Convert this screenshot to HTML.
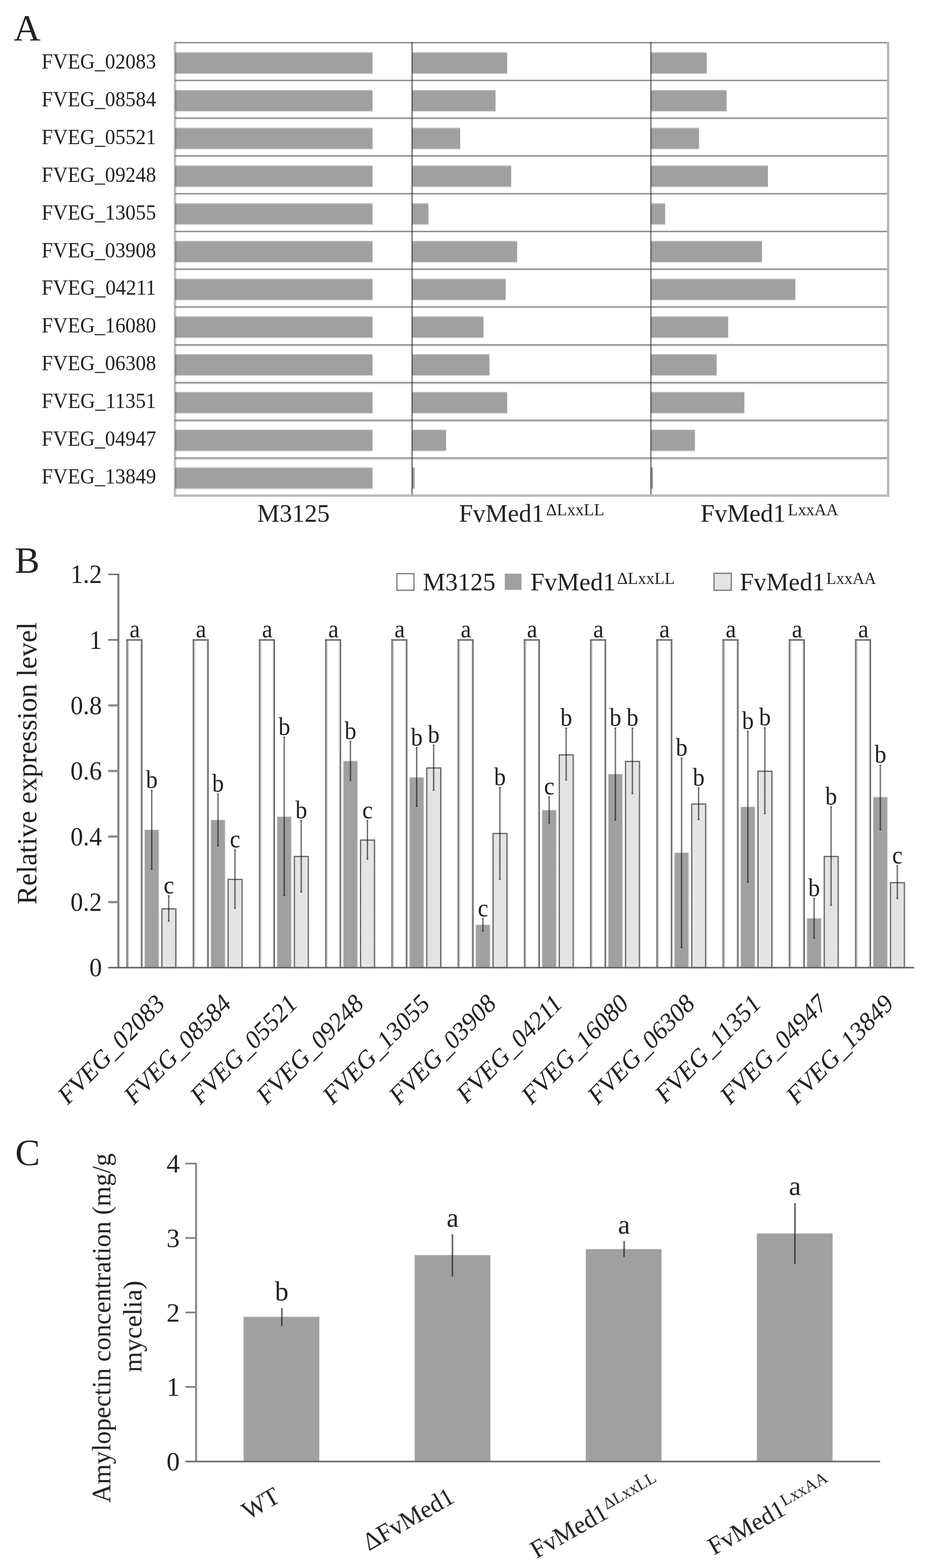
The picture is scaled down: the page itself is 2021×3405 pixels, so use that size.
<!DOCTYPE html>
<html lang="en">
<head>
<meta charset="utf-8">
<title>Figure</title>
<style>
html,body{margin:0;padding:0;background:#fff;}
body{width:2021px;height:3405px;}
svg{display:block;font-family:'Liberation Serif', 'DejaVu Serif', serif;fill:#222222;}
</style>
</head>
<body>
<svg width="2021" height="3405" viewBox="0 0 2021 3405">
<defs>
<pattern id="dots" width="4" height="4" patternUnits="userSpaceOnUse"><rect width="4" height="4" fill="#e9e9e9"/><rect width="2" height="2" fill="#dfdfdf"/><rect x="2" y="2" width="2" height="2" fill="#dfdfdf"/></pattern>
<filter id="soft" x="0" y="0" width="2021" height="3405" filterUnits="userSpaceOnUse"><feGaussianBlur stdDeviation="0.7"/></filter>
</defs>
<rect width="2021" height="3405" fill="#ffffff"/>
<g filter="url(#soft)">
<g id="panelA">
<text x="29.5" y="88" font-size="81">A</text>
<rect x="380.2" y="158.8" width="429.3" height="2.8" fill="#e9e9e9"/>
<rect x="380.2" y="113.5" width="428.5" height="3" fill="#b4b4b4"/>
<rect x="380.2" y="115.9" width="428.5" height="43.4" fill="#a0a0a0"/>
<rect x="894.5" y="158.8" width="207.3" height="2.8" fill="#e9e9e9"/>
<rect x="894.5" y="113.5" width="206.5" height="3" fill="#b4b4b4"/>
<rect x="894.5" y="115.9" width="206.5" height="43.4" fill="#a0a0a0"/>
<rect x="1412.9" y="158.8" width="122.1" height="2.8" fill="#e9e9e9"/>
<rect x="1412.9" y="113.5" width="121.3" height="3" fill="#b4b4b4"/>
<rect x="1412.9" y="115.9" width="121.3" height="43.4" fill="#a0a0a0"/>
<text x="90.3" y="149" font-size="47" textLength="248.5" lengthAdjust="spacingAndGlyphs">FVEG_02083</text>
<rect x="380.2" y="240.8" width="429.3" height="2.8" fill="#e9e9e9"/>
<rect x="380.2" y="195.4" width="428.5" height="3" fill="#b4b4b4"/>
<rect x="380.2" y="197.8" width="428.5" height="43.4" fill="#a0a0a0"/>
<rect x="894.5" y="240.8" width="182" height="2.8" fill="#e9e9e9"/>
<rect x="894.5" y="195.4" width="181.2" height="3" fill="#b4b4b4"/>
<rect x="894.5" y="197.8" width="181.2" height="43.4" fill="#a0a0a0"/>
<rect x="1412.9" y="240.8" width="165.2" height="2.8" fill="#e9e9e9"/>
<rect x="1412.9" y="195.4" width="164.4" height="3" fill="#b4b4b4"/>
<rect x="1412.9" y="197.8" width="164.4" height="43.4" fill="#a0a0a0"/>
<text x="90.3" y="230.9" font-size="47" textLength="248.5" lengthAdjust="spacingAndGlyphs">FVEG_08584</text>
<rect x="380.2" y="322.7" width="429.3" height="2.8" fill="#e9e9e9"/>
<rect x="380.2" y="277.4" width="428.5" height="3" fill="#b4b4b4"/>
<rect x="380.2" y="279.8" width="428.5" height="43.4" fill="#a0a0a0"/>
<rect x="894.5" y="322.7" width="105.2" height="2.8" fill="#e9e9e9"/>
<rect x="894.5" y="277.4" width="104.4" height="3" fill="#b4b4b4"/>
<rect x="894.5" y="279.8" width="104.4" height="43.4" fill="#a0a0a0"/>
<rect x="1412.9" y="322.7" width="105.4" height="2.8" fill="#e9e9e9"/>
<rect x="1412.9" y="277.4" width="104.6" height="3" fill="#b4b4b4"/>
<rect x="1412.9" y="279.8" width="104.6" height="43.4" fill="#a0a0a0"/>
<text x="90.3" y="312.8" font-size="47" textLength="248.5" lengthAdjust="spacingAndGlyphs">FVEG_05521</text>
<rect x="380.2" y="404.7" width="429.3" height="2.8" fill="#e9e9e9"/>
<rect x="380.2" y="359.4" width="428.5" height="3" fill="#b4b4b4"/>
<rect x="380.2" y="361.8" width="428.5" height="43.4" fill="#a0a0a0"/>
<rect x="894.5" y="404.7" width="215.9" height="2.8" fill="#e9e9e9"/>
<rect x="894.5" y="359.4" width="215.1" height="3" fill="#b4b4b4"/>
<rect x="894.5" y="361.8" width="215.1" height="43.4" fill="#a0a0a0"/>
<rect x="1412.9" y="404.7" width="254.9" height="2.8" fill="#e9e9e9"/>
<rect x="1412.9" y="359.4" width="254.1" height="3" fill="#b4b4b4"/>
<rect x="1412.9" y="361.8" width="254.1" height="43.4" fill="#a0a0a0"/>
<text x="90.3" y="394.7" font-size="47" textLength="248.5" lengthAdjust="spacingAndGlyphs">FVEG_09248</text>
<rect x="380.2" y="486.6" width="429.3" height="2.8" fill="#e9e9e9"/>
<rect x="380.2" y="441.3" width="428.5" height="3" fill="#b4b4b4"/>
<rect x="380.2" y="443.7" width="428.5" height="43.4" fill="#a0a0a0"/>
<rect x="894.5" y="486.6" width="36.2" height="2.8" fill="#e9e9e9"/>
<rect x="894.5" y="441.3" width="35.4" height="3" fill="#b4b4b4"/>
<rect x="894.5" y="443.7" width="35.4" height="43.4" fill="#a0a0a0"/>
<rect x="1412.9" y="486.6" width="31.8" height="2.8" fill="#e9e9e9"/>
<rect x="1412.9" y="441.3" width="31" height="3" fill="#b4b4b4"/>
<rect x="1412.9" y="443.7" width="31" height="43.4" fill="#a0a0a0"/>
<text x="90.3" y="476.6" font-size="47" textLength="248.5" lengthAdjust="spacingAndGlyphs">FVEG_13055</text>
<rect x="380.2" y="568.5" width="429.3" height="2.8" fill="#e9e9e9"/>
<rect x="380.2" y="523.2" width="428.5" height="3" fill="#b4b4b4"/>
<rect x="380.2" y="525.6" width="428.5" height="43.4" fill="#a0a0a0"/>
<rect x="894.5" y="568.5" width="228.9" height="2.8" fill="#e9e9e9"/>
<rect x="894.5" y="523.2" width="228.1" height="3" fill="#b4b4b4"/>
<rect x="894.5" y="525.6" width="228.1" height="43.4" fill="#a0a0a0"/>
<rect x="1412.9" y="568.5" width="242" height="2.8" fill="#e9e9e9"/>
<rect x="1412.9" y="523.2" width="241.2" height="3" fill="#b4b4b4"/>
<rect x="1412.9" y="525.6" width="241.2" height="43.4" fill="#a0a0a0"/>
<text x="90.3" y="558.5" font-size="47" textLength="248.5" lengthAdjust="spacingAndGlyphs">FVEG_03908</text>
<rect x="380.2" y="650.5" width="429.3" height="2.8" fill="#e9e9e9"/>
<rect x="380.2" y="605.2" width="428.5" height="3" fill="#b4b4b4"/>
<rect x="380.2" y="607.6" width="428.5" height="43.4" fill="#a0a0a0"/>
<rect x="894.5" y="650.5" width="204.1" height="2.8" fill="#e9e9e9"/>
<rect x="894.5" y="605.2" width="203.3" height="3" fill="#b4b4b4"/>
<rect x="894.5" y="607.6" width="203.3" height="43.4" fill="#a0a0a0"/>
<rect x="1412.9" y="650.5" width="314.5" height="2.8" fill="#e9e9e9"/>
<rect x="1412.9" y="605.2" width="313.7" height="3" fill="#b4b4b4"/>
<rect x="1412.9" y="607.6" width="313.7" height="43.4" fill="#a0a0a0"/>
<text x="90.3" y="640.4" font-size="47" textLength="248.5" lengthAdjust="spacingAndGlyphs">FVEG_04211</text>
<rect x="380.2" y="732.4" width="429.3" height="2.8" fill="#e9e9e9"/>
<rect x="380.2" y="687.1" width="428.5" height="3" fill="#b4b4b4"/>
<rect x="380.2" y="689.5" width="428.5" height="43.4" fill="#a0a0a0"/>
<rect x="894.5" y="732.4" width="155.8" height="2.8" fill="#e9e9e9"/>
<rect x="894.5" y="687.1" width="155" height="3" fill="#b4b4b4"/>
<rect x="894.5" y="689.5" width="155" height="43.4" fill="#a0a0a0"/>
<rect x="1412.9" y="732.4" width="168.7" height="2.8" fill="#e9e9e9"/>
<rect x="1412.9" y="687.1" width="167.9" height="3" fill="#b4b4b4"/>
<rect x="1412.9" y="689.5" width="167.9" height="43.4" fill="#a0a0a0"/>
<text x="90.3" y="722.3" font-size="47" textLength="248.5" lengthAdjust="spacingAndGlyphs">FVEG_16080</text>
<rect x="380.2" y="814.4" width="429.3" height="2.8" fill="#e9e9e9"/>
<rect x="380.2" y="769.1" width="428.5" height="3" fill="#b4b4b4"/>
<rect x="380.2" y="771.5" width="428.5" height="43.4" fill="#a0a0a0"/>
<rect x="894.5" y="814.4" width="168.8" height="2.8" fill="#e9e9e9"/>
<rect x="894.5" y="769.1" width="168" height="3" fill="#b4b4b4"/>
<rect x="894.5" y="771.5" width="168" height="43.4" fill="#a0a0a0"/>
<rect x="1412.9" y="814.4" width="143.6" height="2.8" fill="#e9e9e9"/>
<rect x="1412.9" y="769.1" width="142.8" height="3" fill="#b4b4b4"/>
<rect x="1412.9" y="771.5" width="142.8" height="43.4" fill="#a0a0a0"/>
<text x="90.3" y="804.2" font-size="47" textLength="248.5" lengthAdjust="spacingAndGlyphs">FVEG_06308</text>
<rect x="380.2" y="896.4" width="429.3" height="2.8" fill="#e9e9e9"/>
<rect x="380.2" y="851.1" width="428.5" height="3" fill="#b4b4b4"/>
<rect x="380.2" y="853.5" width="428.5" height="43.4" fill="#a0a0a0"/>
<rect x="894.5" y="896.4" width="207.3" height="2.8" fill="#e9e9e9"/>
<rect x="894.5" y="851.1" width="206.5" height="3" fill="#b4b4b4"/>
<rect x="894.5" y="853.5" width="206.5" height="43.4" fill="#a0a0a0"/>
<rect x="1412.9" y="896.4" width="203.7" height="2.8" fill="#e9e9e9"/>
<rect x="1412.9" y="851.1" width="202.9" height="3" fill="#b4b4b4"/>
<rect x="1412.9" y="853.5" width="202.9" height="43.4" fill="#a0a0a0"/>
<text x="90.3" y="886.1" font-size="47" textLength="248.5" lengthAdjust="spacingAndGlyphs">FVEG_11351</text>
<rect x="380.2" y="978.3" width="429.3" height="2.8" fill="#e9e9e9"/>
<rect x="380.2" y="933" width="428.5" height="3" fill="#b4b4b4"/>
<rect x="380.2" y="935.4" width="428.5" height="43.4" fill="#a0a0a0"/>
<rect x="894.5" y="978.3" width="74.7" height="2.8" fill="#e9e9e9"/>
<rect x="894.5" y="933" width="73.9" height="3" fill="#b4b4b4"/>
<rect x="894.5" y="935.4" width="73.9" height="43.4" fill="#a0a0a0"/>
<rect x="1412.9" y="978.3" width="96.5" height="2.8" fill="#e9e9e9"/>
<rect x="1412.9" y="933" width="95.7" height="3" fill="#b4b4b4"/>
<rect x="1412.9" y="935.4" width="95.7" height="43.4" fill="#a0a0a0"/>
<text x="90.3" y="968" font-size="47" textLength="248.5" lengthAdjust="spacingAndGlyphs">FVEG_04947</text>
<rect x="380.2" y="1060.2" width="429.3" height="2.8" fill="#e9e9e9"/>
<rect x="380.2" y="1015" width="428.5" height="3" fill="#b4b4b4"/>
<rect x="380.2" y="1017.4" width="428.5" height="43.4" fill="#a0a0a0"/>
<rect x="894.5" y="1060.2" width="6.5" height="2.8" fill="#e9e9e9"/>
<rect x="894.5" y="1015" width="5.7" height="3" fill="#b4b4b4"/>
<rect x="894.5" y="1017.4" width="5.7" height="43.4" fill="#a0a0a0"/>
<rect x="1412.9" y="1060.2" width="5.4" height="2.8" fill="#e9e9e9"/>
<rect x="1412.9" y="1015" width="4.6" height="3" fill="#b4b4b4"/>
<rect x="1412.9" y="1017.4" width="4.6" height="43.4" fill="#a0a0a0"/>
<text x="90.3" y="1049.9" font-size="47" textLength="248.5" lengthAdjust="spacingAndGlyphs">FVEG_13849</text>
<line x1="380" y1="94.8" x2="1927.9" y2="94.8" stroke="#e8e8e8" stroke-width="2"/>
<line x1="380" y1="92.5" x2="1927.9" y2="92.5" stroke="#808080" stroke-width="2.7"/>
<line x1="380" y1="176.8" x2="1927.9" y2="176.8" stroke="#e8e8e8" stroke-width="2"/>
<line x1="380" y1="174.5" x2="1927.9" y2="174.5" stroke="#808080" stroke-width="2.7"/>
<line x1="380" y1="258.8" x2="1927.9" y2="258.8" stroke="#e8e8e8" stroke-width="2"/>
<line x1="380" y1="256.5" x2="1927.9" y2="256.5" stroke="#808080" stroke-width="2.7"/>
<line x1="380" y1="340.8" x2="1927.9" y2="340.8" stroke="#e8e8e8" stroke-width="2"/>
<line x1="380" y1="338.5" x2="1927.9" y2="338.5" stroke="#808080" stroke-width="2.7"/>
<line x1="380" y1="422.8" x2="1927.9" y2="422.8" stroke="#e8e8e8" stroke-width="2"/>
<line x1="380" y1="420.5" x2="1927.9" y2="420.5" stroke="#808080" stroke-width="2.7"/>
<line x1="380" y1="504.8" x2="1927.9" y2="504.8" stroke="#e8e8e8" stroke-width="2"/>
<line x1="380" y1="502.5" x2="1927.9" y2="502.5" stroke="#808080" stroke-width="2.7"/>
<line x1="380" y1="586.8" x2="1927.9" y2="586.8" stroke="#e8e8e8" stroke-width="2"/>
<line x1="380" y1="584.5" x2="1927.9" y2="584.5" stroke="#808080" stroke-width="2.7"/>
<line x1="380" y1="668.8" x2="1927.9" y2="668.8" stroke="#e8e8e8" stroke-width="2"/>
<line x1="380" y1="666.5" x2="1927.9" y2="666.5" stroke="#808080" stroke-width="2.7"/>
<line x1="380" y1="750.8" x2="1927.9" y2="750.8" stroke="#c6c6c6" stroke-width="2.4"/>
<line x1="380" y1="748.5" x2="1927.9" y2="748.5" stroke="#8c8c8c" stroke-width="2.7"/>
<line x1="380" y1="832.8" x2="1927.9" y2="832.8" stroke="#c6c6c6" stroke-width="2.4"/>
<line x1="380" y1="830.5" x2="1927.9" y2="830.5" stroke="#8c8c8c" stroke-width="2.7"/>
<line x1="380" y1="914.8" x2="1927.9" y2="914.8" stroke="#c6c6c6" stroke-width="2.4"/>
<line x1="380" y1="912.5" x2="1927.9" y2="912.5" stroke="#8c8c8c" stroke-width="2.7"/>
<line x1="380" y1="996.8" x2="1927.9" y2="996.8" stroke="#c6c6c6" stroke-width="2.4"/>
<line x1="380" y1="994.5" x2="1927.9" y2="994.5" stroke="#8c8c8c" stroke-width="2.7"/>
<line x1="894.5" y1="91.5" x2="894.5" y2="1076.2" stroke="#000" stroke-width="3" stroke-opacity="0.52"/>
<line x1="1412.9" y1="91.5" x2="1412.9" y2="1076.2" stroke="#000" stroke-width="3" stroke-opacity="0.52"/>
<line x1="378.8" y1="91" x2="378.8" y2="1078.7" stroke="#b8b8b8" stroke-width="2.8"/>
<line x1="381.4" y1="91" x2="381.4" y2="1078.7" stroke="#000" stroke-width="2.4" stroke-opacity="0.25"/>
<line x1="1927.9" y1="91" x2="1927.9" y2="1078.7" stroke="#b6b6b6" stroke-width="5"/>
<line x1="377.5" y1="1076.2" x2="1930.4" y2="1076.2" stroke="#b9b9b9" stroke-width="5"/>
<text x="637" y="1133" font-size="54.5" text-anchor="middle">M3125</text>
<text x="1154" y="1132.6" font-size="54.5" text-anchor="middle">FvMed1<tspan font-size="36.3" dy="-13.8" dx="4.5">ΔLxxLL</tspan></text>
<text x="1670.3" y="1132.6" font-size="54.5" text-anchor="middle">FvMed1<tspan font-size="35.8" dy="-13.8" dx="4.8">LxxAA</tspan></text>
</g>
<g id="panelB">
<text x="32" y="1243.6" font-size="81">B</text>
<line x1="277.6" y1="1391.8" x2="306.3" y2="1391.8" stroke="#e6e6e6" stroke-width="1.8"/>
<line x1="278.8" y1="1389.6" x2="278.8" y2="2101.2" stroke="#c4c4c4" stroke-width="2"/>
<line x1="305.2" y1="1389.6" x2="305.2" y2="2101.2" stroke="#d2d2d2" stroke-width="1.6"/>
<line x1="275.9" y1="1388.4" x2="275.9" y2="2101.2" stroke="#7c7c7c" stroke-width="3.3"/>
<line x1="307.8" y1="1388.4" x2="307.8" y2="2101.2" stroke="#626262" stroke-width="2.9"/>
<line x1="274.2" y1="1389.6" x2="309.2" y2="1389.6" stroke="#5e5e5e" stroke-width="2.7"/>
<text transform="translate(292.5,1384.2) scale(0.93,1)" font-size="55" text-anchor="middle">a</text>
<rect x="314.4" y="1802.3" width="30" height="298.9" fill="#a0a0a0" stroke="#ececec" stroke-width="3.5" paint-order="stroke"/>
<rect x="351.4" y="1973.7" width="30.2" height="127.5" fill="url(#dots)" stroke="#626262" stroke-width="2.6"/>
<line x1="383.8" y1="1973.1" x2="383.8" y2="2101.2" stroke="#e0e0e0" stroke-width="1.8"/>
<line x1="329.4" y1="1715.4" x2="329.4" y2="1888.4" stroke="#000" stroke-width="3" stroke-opacity="0.56"/>
<rect x="327.2" y="1715.4" width="4.4" height="2.4" fill="#000" fill-opacity="0.35"/>
<rect x="327.2" y="1886" width="4.4" height="2.4" fill="#000" fill-opacity="0.35"/>
<line x1="366.3" y1="1944.2" x2="366.3" y2="2001.4" stroke="#000" stroke-width="3" stroke-opacity="0.56"/>
<rect x="364.1" y="1944.2" width="4.4" height="2.4" fill="#000" fill-opacity="0.35"/>
<rect x="364.1" y="1999" width="4.4" height="2.4" fill="#000" fill-opacity="0.35"/>
<text transform="translate(329.6,1711.4) scale(0.93,1)" font-size="55" text-anchor="middle">b</text>
<text transform="translate(366.5,1939.8) scale(0.93,1)" font-size="55" text-anchor="middle">c</text>
<text transform="translate(361.4,2182.5) rotate(-45.5)" font-size="55" text-anchor="end" font-style="italic">FVEG_02083</text>
<line x1="421.4" y1="1391.8" x2="450.1" y2="1391.8" stroke="#e6e6e6" stroke-width="1.8"/>
<line x1="422.6" y1="1389.6" x2="422.6" y2="2101.2" stroke="#c4c4c4" stroke-width="2"/>
<line x1="449" y1="1389.6" x2="449" y2="2101.2" stroke="#d2d2d2" stroke-width="1.6"/>
<line x1="419.7" y1="1388.4" x2="419.7" y2="2101.2" stroke="#7c7c7c" stroke-width="3.3"/>
<line x1="451.6" y1="1388.4" x2="451.6" y2="2101.2" stroke="#626262" stroke-width="2.9"/>
<line x1="418" y1="1389.6" x2="453" y2="1389.6" stroke="#5e5e5e" stroke-width="2.7"/>
<text transform="translate(436.3,1384.2) scale(0.93,1)" font-size="55" text-anchor="middle">a</text>
<rect x="458.2" y="1781" width="30" height="320.2" fill="#a0a0a0" stroke="#ececec" stroke-width="3.5" paint-order="stroke"/>
<rect x="495.2" y="1909.7" width="30.2" height="191.5" fill="url(#dots)" stroke="#626262" stroke-width="2.6"/>
<line x1="527.6" y1="1909.1" x2="527.6" y2="2101.2" stroke="#e0e0e0" stroke-width="1.8"/>
<line x1="473.2" y1="1723.1" x2="473.2" y2="1837.8" stroke="#000" stroke-width="3" stroke-opacity="0.56"/>
<rect x="471" y="1723.1" width="4.4" height="2.4" fill="#000" fill-opacity="0.35"/>
<rect x="471" y="1835.4" width="4.4" height="2.4" fill="#000" fill-opacity="0.35"/>
<line x1="510.1" y1="1844.2" x2="510.1" y2="1973.6" stroke="#000" stroke-width="3" stroke-opacity="0.56"/>
<rect x="507.9" y="1844.2" width="4.4" height="2.4" fill="#000" fill-opacity="0.35"/>
<rect x="507.9" y="1971.2" width="4.4" height="2.4" fill="#000" fill-opacity="0.35"/>
<text transform="translate(473.4,1719.1) scale(0.93,1)" font-size="55" text-anchor="middle">b</text>
<text transform="translate(510.3,1839.8) scale(0.93,1)" font-size="55" text-anchor="middle">c</text>
<text transform="translate(505.2,2182.5) rotate(-45.5)" font-size="55" text-anchor="end" font-style="italic">FVEG_08584</text>
<line x1="565.2" y1="1391.8" x2="593.9" y2="1391.8" stroke="#e6e6e6" stroke-width="1.8"/>
<line x1="566.4" y1="1389.6" x2="566.4" y2="2101.2" stroke="#c4c4c4" stroke-width="2"/>
<line x1="592.8" y1="1389.6" x2="592.8" y2="2101.2" stroke="#d2d2d2" stroke-width="1.6"/>
<line x1="563.5" y1="1388.4" x2="563.5" y2="2101.2" stroke="#7c7c7c" stroke-width="3.3"/>
<line x1="595.4" y1="1388.4" x2="595.4" y2="2101.2" stroke="#626262" stroke-width="2.9"/>
<line x1="561.8" y1="1389.6" x2="596.8" y2="1389.6" stroke="#5e5e5e" stroke-width="2.7"/>
<text transform="translate(580.1,1384.2) scale(0.93,1)" font-size="55" text-anchor="middle">a</text>
<rect x="602" y="1773.9" width="30" height="327.3" fill="#a0a0a0" stroke="#ececec" stroke-width="3.5" paint-order="stroke"/>
<rect x="639" y="1859.9" width="30.2" height="241.3" fill="url(#dots)" stroke="#626262" stroke-width="2.6"/>
<line x1="671.4" y1="1859.3" x2="671.4" y2="2101.2" stroke="#e0e0e0" stroke-width="1.8"/>
<line x1="617" y1="1599.8" x2="617" y2="1945.6" stroke="#000" stroke-width="3" stroke-opacity="0.56"/>
<rect x="614.8" y="1599.8" width="4.4" height="2.4" fill="#000" fill-opacity="0.35"/>
<rect x="614.8" y="1943.2" width="4.4" height="2.4" fill="#000" fill-opacity="0.35"/>
<line x1="653.9" y1="1780.9" x2="653.9" y2="1938.2" stroke="#000" stroke-width="3" stroke-opacity="0.56"/>
<rect x="651.7" y="1780.9" width="4.4" height="2.4" fill="#000" fill-opacity="0.35"/>
<rect x="651.7" y="1935.8" width="4.4" height="2.4" fill="#000" fill-opacity="0.35"/>
<text transform="translate(617.2,1595.8) scale(0.93,1)" font-size="55" text-anchor="middle">b</text>
<text transform="translate(654.1,1776.5) scale(0.93,1)" font-size="55" text-anchor="middle">b</text>
<text transform="translate(649,2182.5) rotate(-45.5)" font-size="55" text-anchor="end" font-style="italic">FVEG_05521</text>
<line x1="708.9" y1="1391.8" x2="737.6" y2="1391.8" stroke="#e6e6e6" stroke-width="1.8"/>
<line x1="710.1" y1="1389.6" x2="710.1" y2="2101.2" stroke="#c4c4c4" stroke-width="2"/>
<line x1="736.5" y1="1389.6" x2="736.5" y2="2101.2" stroke="#d2d2d2" stroke-width="1.6"/>
<line x1="707.2" y1="1388.4" x2="707.2" y2="2101.2" stroke="#7c7c7c" stroke-width="3.3"/>
<line x1="739.1" y1="1388.4" x2="739.1" y2="2101.2" stroke="#626262" stroke-width="2.9"/>
<line x1="705.5" y1="1389.6" x2="740.5" y2="1389.6" stroke="#5e5e5e" stroke-width="2.7"/>
<text transform="translate(723.8,1384.2) scale(0.93,1)" font-size="55" text-anchor="middle">a</text>
<rect x="745.7" y="1652.9" width="30" height="448.3" fill="#a0a0a0" stroke="#ececec" stroke-width="3.5" paint-order="stroke"/>
<rect x="782.7" y="1824.3" width="30.2" height="276.9" fill="url(#dots)" stroke="#626262" stroke-width="2.6"/>
<line x1="815.1" y1="1823.7" x2="815.1" y2="2101.2" stroke="#e0e0e0" stroke-width="1.8"/>
<line x1="760.7" y1="1609" x2="760.7" y2="1695.6" stroke="#000" stroke-width="3" stroke-opacity="0.56"/>
<rect x="758.5" y="1609" width="4.4" height="2.4" fill="#000" fill-opacity="0.35"/>
<rect x="758.5" y="1693.2" width="4.4" height="2.4" fill="#000" fill-opacity="0.35"/>
<line x1="797.6" y1="1780.9" x2="797.6" y2="1866.5" stroke="#000" stroke-width="3" stroke-opacity="0.56"/>
<rect x="795.4" y="1780.9" width="4.4" height="2.4" fill="#000" fill-opacity="0.35"/>
<rect x="795.4" y="1864.1" width="4.4" height="2.4" fill="#000" fill-opacity="0.35"/>
<text transform="translate(760.9,1605) scale(0.93,1)" font-size="55" text-anchor="middle">b</text>
<text transform="translate(797.8,1776.5) scale(0.93,1)" font-size="55" text-anchor="middle">c</text>
<text transform="translate(792.7,2182.5) rotate(-45.5)" font-size="55" text-anchor="end" font-style="italic">FVEG_09248</text>
<line x1="852.7" y1="1391.8" x2="881.4" y2="1391.8" stroke="#e6e6e6" stroke-width="1.8"/>
<line x1="853.9" y1="1389.6" x2="853.9" y2="2101.2" stroke="#c4c4c4" stroke-width="2"/>
<line x1="880.3" y1="1389.6" x2="880.3" y2="2101.2" stroke="#d2d2d2" stroke-width="1.6"/>
<line x1="851" y1="1388.4" x2="851" y2="2101.2" stroke="#7c7c7c" stroke-width="3.3"/>
<line x1="882.9" y1="1388.4" x2="882.9" y2="2101.2" stroke="#626262" stroke-width="2.9"/>
<line x1="849.3" y1="1389.6" x2="884.3" y2="1389.6" stroke="#5e5e5e" stroke-width="2.7"/>
<text transform="translate(867.6,1384.2) scale(0.93,1)" font-size="55" text-anchor="middle">a</text>
<rect x="889.5" y="1688.5" width="30" height="412.7" fill="#a0a0a0" stroke="#ececec" stroke-width="3.5" paint-order="stroke"/>
<rect x="926.5" y="1667.7" width="30.2" height="433.5" fill="url(#dots)" stroke="#626262" stroke-width="2.6"/>
<line x1="958.9" y1="1667.1" x2="958.9" y2="2101.2" stroke="#e0e0e0" stroke-width="1.8"/>
<line x1="904.5" y1="1622.5" x2="904.5" y2="1752.2" stroke="#000" stroke-width="3" stroke-opacity="0.56"/>
<rect x="902.3" y="1622.5" width="4.4" height="2.4" fill="#000" fill-opacity="0.35"/>
<rect x="902.3" y="1749.8" width="4.4" height="2.4" fill="#000" fill-opacity="0.35"/>
<line x1="941.4" y1="1617.1" x2="941.4" y2="1716.9" stroke="#000" stroke-width="3" stroke-opacity="0.56"/>
<rect x="939.2" y="1617.1" width="4.4" height="2.4" fill="#000" fill-opacity="0.35"/>
<rect x="939.2" y="1714.5" width="4.4" height="2.4" fill="#000" fill-opacity="0.35"/>
<text transform="translate(904.7,1618.5) scale(0.93,1)" font-size="55" text-anchor="middle">b</text>
<text transform="translate(941.6,1612.7) scale(0.93,1)" font-size="55" text-anchor="middle">b</text>
<text transform="translate(936.5,2182.5) rotate(-45.5)" font-size="55" text-anchor="end" font-style="italic">FVEG_13055</text>
<line x1="996.5" y1="1391.8" x2="1025.2" y2="1391.8" stroke="#e6e6e6" stroke-width="1.8"/>
<line x1="997.7" y1="1389.6" x2="997.7" y2="2101.2" stroke="#c4c4c4" stroke-width="2"/>
<line x1="1024.1" y1="1389.6" x2="1024.1" y2="2101.2" stroke="#d2d2d2" stroke-width="1.6"/>
<line x1="994.8" y1="1388.4" x2="994.8" y2="2101.2" stroke="#7c7c7c" stroke-width="3.3"/>
<line x1="1026.7" y1="1388.4" x2="1026.7" y2="2101.2" stroke="#626262" stroke-width="2.9"/>
<line x1="993.1" y1="1389.6" x2="1028.1" y2="1389.6" stroke="#5e5e5e" stroke-width="2.7"/>
<text transform="translate(1011.4,1384.2) scale(0.93,1)" font-size="55" text-anchor="middle">a</text>
<rect x="1033.3" y="2008.7" width="30" height="92.5" fill="#a0a0a0" stroke="#ececec" stroke-width="3.5" paint-order="stroke"/>
<rect x="1070.3" y="1810" width="30.2" height="291.2" fill="url(#dots)" stroke="#626262" stroke-width="2.6"/>
<line x1="1102.7" y1="1809.4" x2="1102.7" y2="2101.2" stroke="#e0e0e0" stroke-width="1.8"/>
<line x1="1048.3" y1="1993.8" x2="1048.3" y2="2022.5" stroke="#000" stroke-width="3" stroke-opacity="0.56"/>
<rect x="1046.1" y="1993.8" width="4.4" height="2.4" fill="#000" fill-opacity="0.35"/>
<rect x="1046.1" y="2020.1" width="4.4" height="2.4" fill="#000" fill-opacity="0.35"/>
<line x1="1085.2" y1="1709.1" x2="1085.2" y2="1910.3" stroke="#000" stroke-width="3" stroke-opacity="0.56"/>
<rect x="1083" y="1709.1" width="4.4" height="2.4" fill="#000" fill-opacity="0.35"/>
<rect x="1083" y="1907.9" width="4.4" height="2.4" fill="#000" fill-opacity="0.35"/>
<text transform="translate(1048.5,1989.8) scale(0.93,1)" font-size="55" text-anchor="middle">c</text>
<text transform="translate(1085.4,1704.7) scale(0.93,1)" font-size="55" text-anchor="middle">b</text>
<text transform="translate(1080.3,2182.5) rotate(-45.5)" font-size="55" text-anchor="end" font-style="italic">FVEG_03908</text>
<line x1="1140.3" y1="1391.8" x2="1169" y2="1391.8" stroke="#e6e6e6" stroke-width="1.8"/>
<line x1="1141.5" y1="1389.6" x2="1141.5" y2="2101.2" stroke="#c4c4c4" stroke-width="2"/>
<line x1="1167.9" y1="1389.6" x2="1167.9" y2="2101.2" stroke="#d2d2d2" stroke-width="1.6"/>
<line x1="1138.6" y1="1388.4" x2="1138.6" y2="2101.2" stroke="#7c7c7c" stroke-width="3.3"/>
<line x1="1170.5" y1="1388.4" x2="1170.5" y2="2101.2" stroke="#626262" stroke-width="2.9"/>
<line x1="1136.9" y1="1389.6" x2="1171.9" y2="1389.6" stroke="#5e5e5e" stroke-width="2.7"/>
<text transform="translate(1155.2,1384.2) scale(0.93,1)" font-size="55" text-anchor="middle">a</text>
<rect x="1177.1" y="1759.6" width="30" height="341.6" fill="#a0a0a0" stroke="#ececec" stroke-width="3.5" paint-order="stroke"/>
<rect x="1214.1" y="1639.3" width="30.2" height="461.9" fill="url(#dots)" stroke="#626262" stroke-width="2.6"/>
<line x1="1246.5" y1="1638.7" x2="1246.5" y2="2101.2" stroke="#e0e0e0" stroke-width="1.8"/>
<line x1="1192.1" y1="1729.3" x2="1192.1" y2="1788.3" stroke="#000" stroke-width="3" stroke-opacity="0.56"/>
<rect x="1189.9" y="1729.3" width="4.4" height="2.4" fill="#000" fill-opacity="0.35"/>
<rect x="1189.9" y="1785.9" width="4.4" height="2.4" fill="#000" fill-opacity="0.35"/>
<line x1="1229" y1="1580" x2="1229" y2="1695" stroke="#000" stroke-width="3" stroke-opacity="0.56"/>
<rect x="1226.8" y="1580" width="4.4" height="2.4" fill="#000" fill-opacity="0.35"/>
<rect x="1226.8" y="1692.6" width="4.4" height="2.4" fill="#000" fill-opacity="0.35"/>
<text transform="translate(1192.3,1725.3) scale(0.93,1)" font-size="55" text-anchor="middle">c</text>
<text transform="translate(1229.2,1575.6) scale(0.93,1)" font-size="55" text-anchor="middle">b</text>
<text transform="translate(1224.1,2182.5) rotate(-45.5)" font-size="55" text-anchor="end" font-style="italic">FVEG_04211</text>
<line x1="1284.1" y1="1391.8" x2="1312.8" y2="1391.8" stroke="#e6e6e6" stroke-width="1.8"/>
<line x1="1285.3" y1="1389.6" x2="1285.3" y2="2101.2" stroke="#c4c4c4" stroke-width="2"/>
<line x1="1311.7" y1="1389.6" x2="1311.7" y2="2101.2" stroke="#d2d2d2" stroke-width="1.6"/>
<line x1="1282.4" y1="1388.4" x2="1282.4" y2="2101.2" stroke="#7c7c7c" stroke-width="3.3"/>
<line x1="1314.3" y1="1388.4" x2="1314.3" y2="2101.2" stroke="#626262" stroke-width="2.9"/>
<line x1="1280.7" y1="1389.6" x2="1315.7" y2="1389.6" stroke="#5e5e5e" stroke-width="2.7"/>
<text transform="translate(1299,1384.2) scale(0.93,1)" font-size="55" text-anchor="middle">a</text>
<rect x="1320.9" y="1681.4" width="30" height="419.8" fill="#a0a0a0" stroke="#ececec" stroke-width="3.5" paint-order="stroke"/>
<rect x="1357.9" y="1653.5" width="30.2" height="447.7" fill="url(#dots)" stroke="#626262" stroke-width="2.6"/>
<line x1="1390.3" y1="1652.9" x2="1390.3" y2="2101.2" stroke="#e0e0e0" stroke-width="1.8"/>
<line x1="1335.9" y1="1580" x2="1335.9" y2="1781.6" stroke="#000" stroke-width="3" stroke-opacity="0.56"/>
<rect x="1333.7" y="1580" width="4.4" height="2.4" fill="#000" fill-opacity="0.35"/>
<rect x="1333.7" y="1779.2" width="4.4" height="2.4" fill="#000" fill-opacity="0.35"/>
<line x1="1372.8" y1="1580" x2="1372.8" y2="1724.3" stroke="#000" stroke-width="3" stroke-opacity="0.56"/>
<rect x="1370.6" y="1580" width="4.4" height="2.4" fill="#000" fill-opacity="0.35"/>
<rect x="1370.6" y="1721.9" width="4.4" height="2.4" fill="#000" fill-opacity="0.35"/>
<text transform="translate(1336.1,1576) scale(0.93,1)" font-size="55" text-anchor="middle">b</text>
<text transform="translate(1373,1575.6) scale(0.93,1)" font-size="55" text-anchor="middle">b</text>
<text transform="translate(1367.8,2182.5) rotate(-45.5)" font-size="55" text-anchor="end" font-style="italic">FVEG_16080</text>
<line x1="1427.8" y1="1391.8" x2="1456.5" y2="1391.8" stroke="#e6e6e6" stroke-width="1.8"/>
<line x1="1429" y1="1389.6" x2="1429" y2="2101.2" stroke="#c4c4c4" stroke-width="2"/>
<line x1="1455.4" y1="1389.6" x2="1455.4" y2="2101.2" stroke="#d2d2d2" stroke-width="1.6"/>
<line x1="1426.1" y1="1388.4" x2="1426.1" y2="2101.2" stroke="#7c7c7c" stroke-width="3.3"/>
<line x1="1458" y1="1388.4" x2="1458" y2="2101.2" stroke="#626262" stroke-width="2.9"/>
<line x1="1424.4" y1="1389.6" x2="1459.4" y2="1389.6" stroke="#5e5e5e" stroke-width="2.7"/>
<text transform="translate(1442.7,1384.2) scale(0.93,1)" font-size="55" text-anchor="middle">a</text>
<rect x="1464.6" y="1852.1" width="30" height="249.1" fill="#a0a0a0" stroke="#ececec" stroke-width="3.5" paint-order="stroke"/>
<rect x="1501.6" y="1746" width="30.2" height="355.2" fill="url(#dots)" stroke="#626262" stroke-width="2.6"/>
<line x1="1534" y1="1745.4" x2="1534" y2="2101.2" stroke="#e0e0e0" stroke-width="1.8"/>
<line x1="1479.6" y1="1645.1" x2="1479.6" y2="2058.8" stroke="#000" stroke-width="3" stroke-opacity="0.56"/>
<rect x="1477.4" y="1645.1" width="4.4" height="2.4" fill="#000" fill-opacity="0.35"/>
<rect x="1477.4" y="2056.4" width="4.4" height="2.4" fill="#000" fill-opacity="0.35"/>
<line x1="1516.5" y1="1710.1" x2="1516.5" y2="1780.9" stroke="#000" stroke-width="3" stroke-opacity="0.56"/>
<rect x="1514.3" y="1710.1" width="4.4" height="2.4" fill="#000" fill-opacity="0.35"/>
<rect x="1514.3" y="1778.5" width="4.4" height="2.4" fill="#000" fill-opacity="0.35"/>
<text transform="translate(1479.8,1641.1) scale(0.93,1)" font-size="55" text-anchor="middle">b</text>
<text transform="translate(1516.7,1705.7) scale(0.93,1)" font-size="55" text-anchor="middle">b</text>
<text transform="translate(1511.6,2182.5) rotate(-45.5)" font-size="55" text-anchor="end" font-style="italic">FVEG_06308</text>
<line x1="1571.6" y1="1391.8" x2="1600.3" y2="1391.8" stroke="#e6e6e6" stroke-width="1.8"/>
<line x1="1572.8" y1="1389.6" x2="1572.8" y2="2101.2" stroke="#c4c4c4" stroke-width="2"/>
<line x1="1599.2" y1="1389.6" x2="1599.2" y2="2101.2" stroke="#d2d2d2" stroke-width="1.6"/>
<line x1="1569.9" y1="1388.4" x2="1569.9" y2="2101.2" stroke="#7c7c7c" stroke-width="3.3"/>
<line x1="1601.8" y1="1388.4" x2="1601.8" y2="2101.2" stroke="#626262" stroke-width="2.9"/>
<line x1="1568.2" y1="1389.6" x2="1603.2" y2="1389.6" stroke="#5e5e5e" stroke-width="2.7"/>
<text transform="translate(1586.5,1384.2) scale(0.93,1)" font-size="55" text-anchor="middle">a</text>
<rect x="1608.4" y="1752.5" width="30" height="348.7" fill="#a0a0a0" stroke="#ececec" stroke-width="3.5" paint-order="stroke"/>
<rect x="1645.4" y="1674.8" width="30.2" height="426.4" fill="url(#dots)" stroke="#626262" stroke-width="2.6"/>
<line x1="1677.8" y1="1674.2" x2="1677.8" y2="2101.2" stroke="#e0e0e0" stroke-width="1.8"/>
<line x1="1623.4" y1="1587.1" x2="1623.4" y2="1917" stroke="#000" stroke-width="3" stroke-opacity="0.56"/>
<rect x="1621.2" y="1587.1" width="4.4" height="2.4" fill="#000" fill-opacity="0.35"/>
<rect x="1621.2" y="1914.6" width="4.4" height="2.4" fill="#000" fill-opacity="0.35"/>
<line x1="1660.3" y1="1579.4" x2="1660.3" y2="1768" stroke="#000" stroke-width="3" stroke-opacity="0.56"/>
<rect x="1658.1" y="1579.4" width="4.4" height="2.4" fill="#000" fill-opacity="0.35"/>
<rect x="1658.1" y="1765.6" width="4.4" height="2.4" fill="#000" fill-opacity="0.35"/>
<text transform="translate(1623.6,1583.1) scale(0.93,1)" font-size="55" text-anchor="middle">b</text>
<text transform="translate(1660.5,1575) scale(0.93,1)" font-size="55" text-anchor="middle">b</text>
<text transform="translate(1655.4,2182.5) rotate(-45.5)" font-size="55" text-anchor="end" font-style="italic">FVEG_11351</text>
<line x1="1715.4" y1="1391.8" x2="1744.1" y2="1391.8" stroke="#e6e6e6" stroke-width="1.8"/>
<line x1="1716.6" y1="1389.6" x2="1716.6" y2="2101.2" stroke="#c4c4c4" stroke-width="2"/>
<line x1="1743" y1="1389.6" x2="1743" y2="2101.2" stroke="#d2d2d2" stroke-width="1.6"/>
<line x1="1713.7" y1="1388.4" x2="1713.7" y2="2101.2" stroke="#7c7c7c" stroke-width="3.3"/>
<line x1="1745.6" y1="1388.4" x2="1745.6" y2="2101.2" stroke="#626262" stroke-width="2.9"/>
<line x1="1712" y1="1389.6" x2="1747" y2="1389.6" stroke="#5e5e5e" stroke-width="2.7"/>
<text transform="translate(1730.3,1384.2) scale(0.93,1)" font-size="55" text-anchor="middle">a</text>
<rect x="1752.2" y="1994.5" width="30" height="106.7" fill="#a0a0a0" stroke="#ececec" stroke-width="3.5" paint-order="stroke"/>
<rect x="1789.2" y="1859.9" width="30.2" height="241.3" fill="url(#dots)" stroke="#626262" stroke-width="2.6"/>
<line x1="1821.6" y1="1859.3" x2="1821.6" y2="2101.2" stroke="#e0e0e0" stroke-width="1.8"/>
<line x1="1767.2" y1="1950" x2="1767.2" y2="2038.3" stroke="#000" stroke-width="3" stroke-opacity="0.56"/>
<rect x="1765" y="1950" width="4.4" height="2.4" fill="#000" fill-opacity="0.35"/>
<rect x="1765" y="2035.9" width="4.4" height="2.4" fill="#000" fill-opacity="0.35"/>
<line x1="1804.1" y1="1751.2" x2="1804.1" y2="1966.9" stroke="#000" stroke-width="3" stroke-opacity="0.56"/>
<rect x="1801.9" y="1751.2" width="4.4" height="2.4" fill="#000" fill-opacity="0.35"/>
<rect x="1801.9" y="1964.5" width="4.4" height="2.4" fill="#000" fill-opacity="0.35"/>
<text transform="translate(1767.4,1946) scale(0.93,1)" font-size="55" text-anchor="middle">b</text>
<text transform="translate(1804.3,1746.8) scale(0.93,1)" font-size="55" text-anchor="middle">b</text>
<text transform="translate(1799.2,2182.5) rotate(-45.5)" font-size="55" text-anchor="end" font-style="italic">FVEG_04947</text>
<line x1="1859.2" y1="1391.8" x2="1887.9" y2="1391.8" stroke="#e6e6e6" stroke-width="1.8"/>
<line x1="1860.4" y1="1389.6" x2="1860.4" y2="2101.2" stroke="#c4c4c4" stroke-width="2"/>
<line x1="1886.8" y1="1389.6" x2="1886.8" y2="2101.2" stroke="#d2d2d2" stroke-width="1.6"/>
<line x1="1857.5" y1="1388.4" x2="1857.5" y2="2101.2" stroke="#7c7c7c" stroke-width="3.3"/>
<line x1="1889.4" y1="1388.4" x2="1889.4" y2="2101.2" stroke="#626262" stroke-width="2.9"/>
<line x1="1855.8" y1="1389.6" x2="1890.8" y2="1389.6" stroke="#5e5e5e" stroke-width="2.7"/>
<text transform="translate(1874.1,1384.2) scale(0.93,1)" font-size="55" text-anchor="middle">a</text>
<rect x="1896" y="1731.2" width="30" height="370" fill="#a0a0a0" stroke="#ececec" stroke-width="3.5" paint-order="stroke"/>
<rect x="1933" y="1916.8" width="30.2" height="184.4" fill="url(#dots)" stroke="#626262" stroke-width="2.6"/>
<line x1="1965.4" y1="1916.2" x2="1965.4" y2="2101.2" stroke="#e0e0e0" stroke-width="1.8"/>
<line x1="1911" y1="1660.3" x2="1911" y2="1802.8" stroke="#000" stroke-width="3" stroke-opacity="0.56"/>
<rect x="1908.8" y="1660.3" width="4.4" height="2.4" fill="#000" fill-opacity="0.35"/>
<rect x="1908.8" y="1800.4" width="4.4" height="2.4" fill="#000" fill-opacity="0.35"/>
<line x1="1947.9" y1="1879.3" x2="1947.9" y2="1952.4" stroke="#000" stroke-width="3" stroke-opacity="0.56"/>
<rect x="1945.7" y="1879.3" width="4.4" height="2.4" fill="#000" fill-opacity="0.35"/>
<rect x="1945.7" y="1950" width="4.4" height="2.4" fill="#000" fill-opacity="0.35"/>
<text transform="translate(1911.2,1656.3) scale(0.93,1)" font-size="55" text-anchor="middle">b</text>
<text transform="translate(1948.1,1874.9) scale(0.93,1)" font-size="55" text-anchor="middle">c</text>
<text transform="translate(1943,2182.5) rotate(-45.5)" font-size="55" text-anchor="end" font-style="italic">FVEG_13849</text>
<line x1="257" y1="1245.9" x2="257" y2="2102.2" stroke="#808080" stroke-width="4.4"/>
<text transform="translate(221.2,2120.2) scale(0.94,1)" font-size="58" text-anchor="end">0</text>
<line x1="234.9" y1="1958.9" x2="258" y2="1958.9" stroke="#8a8a8a" stroke-width="4.8"/>
<text transform="translate(221.2,1977.9) scale(0.94,1)" font-size="58" text-anchor="end">0.2</text>
<line x1="234.9" y1="1816.6" x2="258" y2="1816.6" stroke="#8a8a8a" stroke-width="4.8"/>
<text transform="translate(221.2,1835.6) scale(0.94,1)" font-size="58" text-anchor="end">0.4</text>
<line x1="234.9" y1="1674.2" x2="258" y2="1674.2" stroke="#8a8a8a" stroke-width="4.8"/>
<text transform="translate(221.2,1693.2) scale(0.94,1)" font-size="58" text-anchor="end">0.6</text>
<line x1="234.9" y1="1531.9" x2="258" y2="1531.9" stroke="#8a8a8a" stroke-width="4.8"/>
<text transform="translate(221.2,1550.9) scale(0.94,1)" font-size="58" text-anchor="end">0.8</text>
<line x1="234.9" y1="1389.6" x2="258" y2="1389.6" stroke="#5c5c5c" stroke-width="2.8"/>
<text transform="translate(221.2,1408.6) scale(0.94,1)" font-size="58" text-anchor="end">1</text>
<line x1="234.9" y1="1247.3" x2="258" y2="1247.3" stroke="#5c5c5c" stroke-width="2.8"/>
<text transform="translate(221.2,1266.3) scale(0.94,1)" font-size="58" text-anchor="end">1.2</text>
<line x1="234.9" y1="2103.6" x2="1984.3" y2="2103.6" stroke="#dedede" stroke-width="2"/>
<line x1="234.9" y1="2101.2" x2="1984.3" y2="2101.2" stroke="#565656" stroke-width="2.8"/>
<text transform="translate(79.3,1657.7) rotate(-90)" font-size="61" text-anchor="middle">Relative expression level</text>
<rect x="861.6" y="1245.7" width="37" height="36" fill="#fff" stroke="#6e6e6e" stroke-width="2.4"/>
<text x="918" y="1282" font-size="54.5">M3125</text>
<rect x="1095.8" y="1245.7" width="36.4" height="35.2" fill="#a0a0a0"/>
<text x="1151.5" y="1282" font-size="54.5">FvMed1<tspan font-size="36" dy="-13.8" dx="3.4">ΔLxxLL</tspan></text>
<rect x="1550" y="1245" width="37.6" height="36.8" fill="url(#dots)" stroke="#7e7e7e" stroke-width="2.8"/>
<text x="1606" y="1282" font-size="54.5">FvMed1<tspan font-size="35.4" dy="-13.8" dx="3.0">LxxAA</tspan></text>
</g>
<g id="panelC">
<text x="33" y="2530" font-size="81">C</text>
<rect x="529" y="2859.8" width="164" height="313.7" fill="#a0a0a0" stroke="#f0f0f0" stroke-width="2.5" paint-order="stroke"/>
<line x1="613.3" y1="2840.7" x2="613.3" y2="2859.8" stroke="#d0d0d0" stroke-width="1.8"/>
<line x1="611.7" y1="2840.4" x2="611.7" y2="2879.7" stroke="#000" stroke-width="3.2" stroke-opacity="0.6"/>
<text x="611.5" y="2824.3" font-size="59" text-anchor="middle">b</text>
<rect x="900.4" y="2725.6" width="164" height="447.9" fill="#a0a0a0" stroke="#f0f0f0" stroke-width="2.5" paint-order="stroke"/>
<line x1="983.6" y1="2680.5" x2="983.6" y2="2725.6" stroke="#d0d0d0" stroke-width="1.8"/>
<line x1="982" y1="2680.2" x2="982" y2="2771.9" stroke="#000" stroke-width="3.2" stroke-opacity="0.6"/>
<text x="982.5" y="2664.2" font-size="59" text-anchor="middle">a</text>
<rect x="1271.8" y="2712.7" width="164" height="460.8" fill="#a0a0a0" stroke="#f0f0f0" stroke-width="2.5" paint-order="stroke"/>
<line x1="1356.3" y1="2695.1" x2="1356.3" y2="2712.7" stroke="#d0d0d0" stroke-width="1.8"/>
<line x1="1354.7" y1="2694.8" x2="1354.7" y2="2729.8" stroke="#000" stroke-width="3.2" stroke-opacity="0.6"/>
<text x="1354.5" y="2678.8" font-size="59" text-anchor="middle">a</text>
<rect x="1643.2" y="2678.7" width="164" height="494.8" fill="#a0a0a0" stroke="#f0f0f0" stroke-width="2.5" paint-order="stroke"/>
<line x1="1727.2" y1="2612.7" x2="1727.2" y2="2678.7" stroke="#d0d0d0" stroke-width="1.8"/>
<line x1="1725.6" y1="2612.4" x2="1725.6" y2="2745" stroke="#000" stroke-width="3.2" stroke-opacity="0.6"/>
<text x="1725.5" y="2595.2" font-size="59" text-anchor="middle">a</text>
<line x1="427.5" y1="2526.7" x2="427.5" y2="3173.5" stroke="#c4c4c4" stroke-width="2"/>
<line x1="425.3" y1="2525.4" x2="425.3" y2="3174.5" stroke="#686868" stroke-width="2.6"/>
<text transform="translate(390.2,3192.9) scale(1.0,1)" font-size="57.5" text-anchor="end">0</text>
<line x1="402.4" y1="3011.8" x2="425.3" y2="3011.8" stroke="#828282" stroke-width="3.8"/>
<text transform="translate(390.2,3031.2) scale(1.0,1)" font-size="57.5" text-anchor="end">1</text>
<line x1="402.4" y1="2850.1" x2="425.3" y2="2850.1" stroke="#828282" stroke-width="3.8"/>
<text transform="translate(390.2,2869.5) scale(1.0,1)" font-size="57.5" text-anchor="end">2</text>
<line x1="402.4" y1="2688.4" x2="425.3" y2="2688.4" stroke="#828282" stroke-width="3.8"/>
<text transform="translate(390.2,2707.8) scale(1.0,1)" font-size="57.5" text-anchor="end">3</text>
<line x1="402.4" y1="2526.7" x2="425.3" y2="2526.7" stroke="#828282" stroke-width="3.8"/>
<text transform="translate(390.2,2546.1) scale(1.0,1)" font-size="57.5" text-anchor="end">4</text>
<line x1="402.4" y1="3175.8" x2="1910.5" y2="3175.8" stroke="#d4d4d4" stroke-width="2"/>
<line x1="402.4" y1="3173.5" x2="1910.5" y2="3173.5" stroke="#686868" stroke-width="2.8"/>
<text transform="translate(239.5,2884) rotate(-90)" font-size="56" text-anchor="middle">Amylopectin concentration (mg/g</text>
<text transform="translate(306.7,2880.3) rotate(-90)" font-size="56.8" text-anchor="middle">mycelia)</text>
<text transform="translate(538.5,3301.3) rotate(-29.7)" font-size="54">WT</text>
<text transform="translate(800.5,3368.5) rotate(-29.7)" font-size="54">ΔFvMed1</text>
<text transform="translate(1164.5,3385.3) rotate(-29.7)" font-size="54">FvMed1<tspan font-size="36" dy="-17" dx="2.6" letter-spacing="0.3">ΔLxxLL</tspan></text>
<text transform="translate(1549.8,3378) rotate(-29.7)" font-size="54">FvMed1<tspan font-size="36" dy="-17" dx="2.6" letter-spacing="0.3">LxxAA</tspan></text>
</g>
</g>
</svg>
</body>
</html>
